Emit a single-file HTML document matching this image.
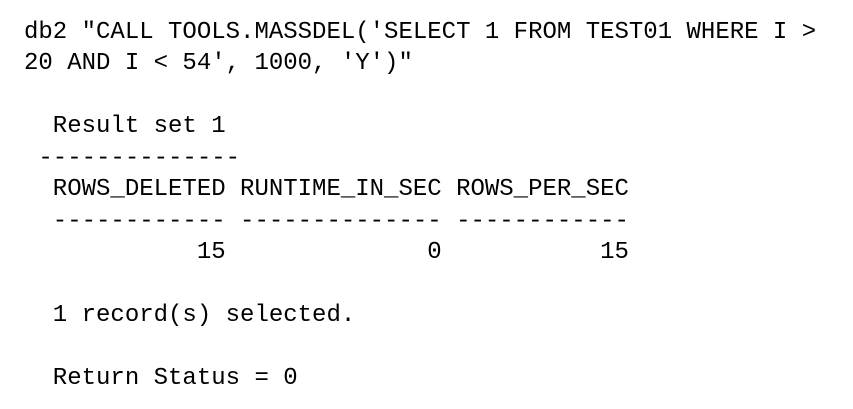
<!DOCTYPE html>
<html>
<head>
<meta charset="utf-8">
<style>
html,body{margin:0;padding:0;background:#fff;}
body{width:853px;height:409px;overflow:hidden;}
pre{margin:0;position:absolute;left:24px;top:17px;font-family:"Liberation Mono",monospace;font-size:24px;line-height:31.45px;color:#000;}
</style>
</head>
<body>
<pre>db2 "CALL TOOLS.MASSDEL('SELECT 1 FROM TEST01 WHERE I &gt;
20 AND I &lt; 54', 1000, 'Y')"

  Result set 1
 --------------
  ROWS_DELETED RUNTIME_IN_SEC ROWS_PER_SEC
  ------------ -------------- ------------
            15              0           15

  1 record(s) selected.

  Return Status = 0</pre>
</body>
</html>
